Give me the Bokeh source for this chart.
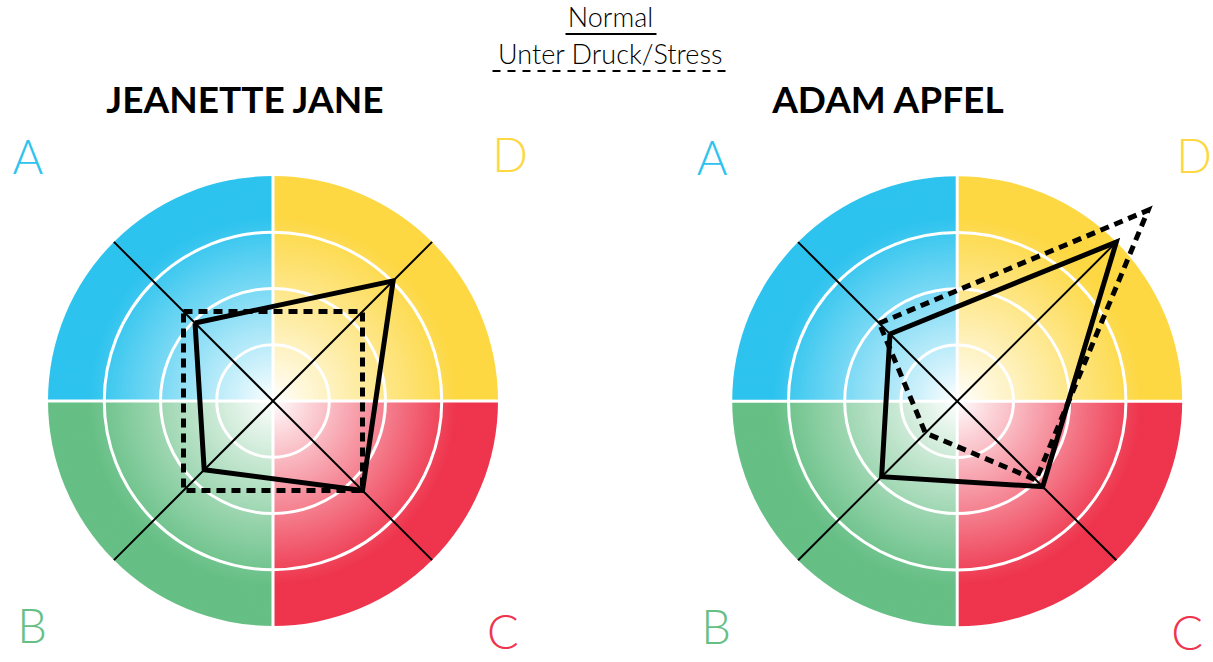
import math
from bokeh.plotting import figure
from bokeh.models import Range1d, ColumnDataSource
from bokeh.core.properties import value
from bokeh.embed import file_html
from bokeh.resources import INLINE

# ---------------- data ----------------
axis_names = ["A", "D", "C", "B"]
axis_angles = [135, 45, -45, 225]          # direction of each axis (degrees)
quadrant_colors = {"D": "#FDD843", "A": "#2DC3EE", "B": "#66BF85", "C": "#EE354D"}
levels = [1, 2, 3, 4]

people = ["JEANETTE JANE", "ADAM APFEL"]
jeanette_normal = [1.96, 3.02, 2.25, 1.73]
jeanette_stress = [2.25, 2.25, 2.25, 2.25]
adam_normal = [1.69, 4.0, 2.15, 1.90]
adam_stress = [1.96, 4.8, 1.98, 0.80]

legend_labels = ["Normal", "Unter Druck/Stress"]

# ---------------- layout ----------------
W, H = 1213, 662
UNIT = 56.25                     # px per level
centers = [(272.5, 400.5), (956.7, 400.7)]
BL = 0.44                        # baseline compensation (fraction of font size)


def Y(y):
    return -y


def TY(b, fs):
    return -(b - BL * fs)


p = figure(width=W, height=H, output_backend="svg", toolbar_location=None,
           x_range=Range1d(0, W), y_range=Range1d(-H, 0),
           x_axis_type=None, y_axis_type=None, min_border=0,
           min_border_left=0, min_border_right=0, min_border_top=0, min_border_bottom=0)
p.outline_line_color = None
p.grid.visible = False
p.background_fill_color = "white"
p.border_fill_color = "white"


def hex2rgb(h):
    h = h.lstrip("#")
    return tuple(int(h[i:i + 2], 16) for i in (0, 2, 4))


def mix(c, t):
    r, g, b = hex2rgb(c)
    return "#%02x%02x%02x" % (round(255 + (r - 255) * t), round(255 + (g - 255) * t), round(255 + (b - 255) * t))


quad_ranges = {"D": (0, 90), "A": (90, 180), "B": (180, 270), "C": (270, 360)}
R = UNIT * max(levels)

for (cx, cy) in centers:
    xs, ys, rs, a0, a1, cols = [], [], [], [], [], []
    r = R
    while r > 1:
        for q, (s, e) in quad_ranges.items():
            t = min(r / 185.0, 1.0) ** 0.95
            xs.append(cx); ys.append(Y(cy)); rs.append(r)
            a0.append(math.radians(s)); a1.append(math.radians(e))
            cols.append(mix(quadrant_colors[q], t))
        r -= 2.0
    src = ColumnDataSource(dict(x=xs, y=ys, r=rs, a0=a0, a1=a1, c=cols))
    p.wedge(x="x", y="y", radius="r", start_angle="a0", end_angle="a1",
            fill_color="c", line_color=None, source=src)

    # white ring lines
    for lv in levels[:-1]:
        p.circle(x=[cx], y=[Y(cy)], radius=lv * UNIT, fill_color=None,
                 line_color="white", line_width=3)
    # white quadrant separators
    p.segment(x0=[cx - R - 1, cx], y0=[Y(cy), Y(cy) + R + 1],
              x1=[cx + R + 1, cx], y1=[Y(cy), Y(cy) - R - 1],
              line_color="white", line_width=3)
    # black diagonal axes
    ex = [cx + R * math.cos(math.radians(a)) for a in axis_angles]
    ey = [Y(cy) + R * math.sin(math.radians(a)) for a in axis_angles]
    p.segment(x0=[cx] * 4, y0=[Y(cy)] * 4, x1=ex, y1=ey,
              line_color="black", line_width=2)


def poly(center, vals):
    cx, cy = center
    xs = [cx + v * UNIT * math.cos(math.radians(a)) for v, a in zip(vals, axis_angles)]
    ys = [Y(cy) + v * UNIT * math.sin(math.radians(a)) for v, a in zip(vals, axis_angles)]
    return xs + xs[:1], ys + ys[:1]


for center, normal, stress in [(centers[0], jeanette_normal, jeanette_stress),
                               (centers[1], adam_normal, adam_stress)]:
    xs, ys = poly(center, stress)
    p.line(xs, ys, line_color="black", line_width=5, line_dash="9 6",
           line_join="miter")
    xs, ys = poly(center, normal)
    p.line(xs, ys, line_color="black", line_width=5, line_join="miter")

# corner letters
LFS = 47
lx, ly, lt, lc = [], [], [], []
for (cx, cy) in centers:
    for name, (dx, dy) in zip(axis_names, [(-245, -224), (237, -226), (230, 251), (-241, 245)]):
        lx.append(cx + dx); ly.append(TY(cy + dy, LFS)); lt.append(name); lc.append(quadrant_colors[name])
p.text(x=lx, y=ly, text=lt, text_color=lc, text_font=value("Lato Light"),
       text_font_size=f"{LFS}px", text_align="center", text_baseline="alphabetic")

# titles
TFS = 37
p.text(x=[245, 888], y=[TY(114, TFS), TY(114, TFS)], text=people, text_color="black",
       text_font=value("Lato"), text_font_style="bold", text_font_size=f"{TFS}px",
       text_align="center", text_baseline="alphabetic")

# legend
GFS = 27
p.text(x=[610, 610], y=[TY(28, GFS), TY(65, GFS)], text=legend_labels, text_color="black",
       text_font=value("Lato Light"), text_font_size=f"{GFS}px",
       text_align="center", text_baseline="alphabetic")
p.line([565, 656], [Y(33.5), Y(33.5)], line_color="black", line_width=2)
p.line([492, 728], [Y(70.5), Y(70.5)], line_color="black", line_width=2, line_dash="8 7")

open("out.html", "w").write(file_html(p, INLINE))
